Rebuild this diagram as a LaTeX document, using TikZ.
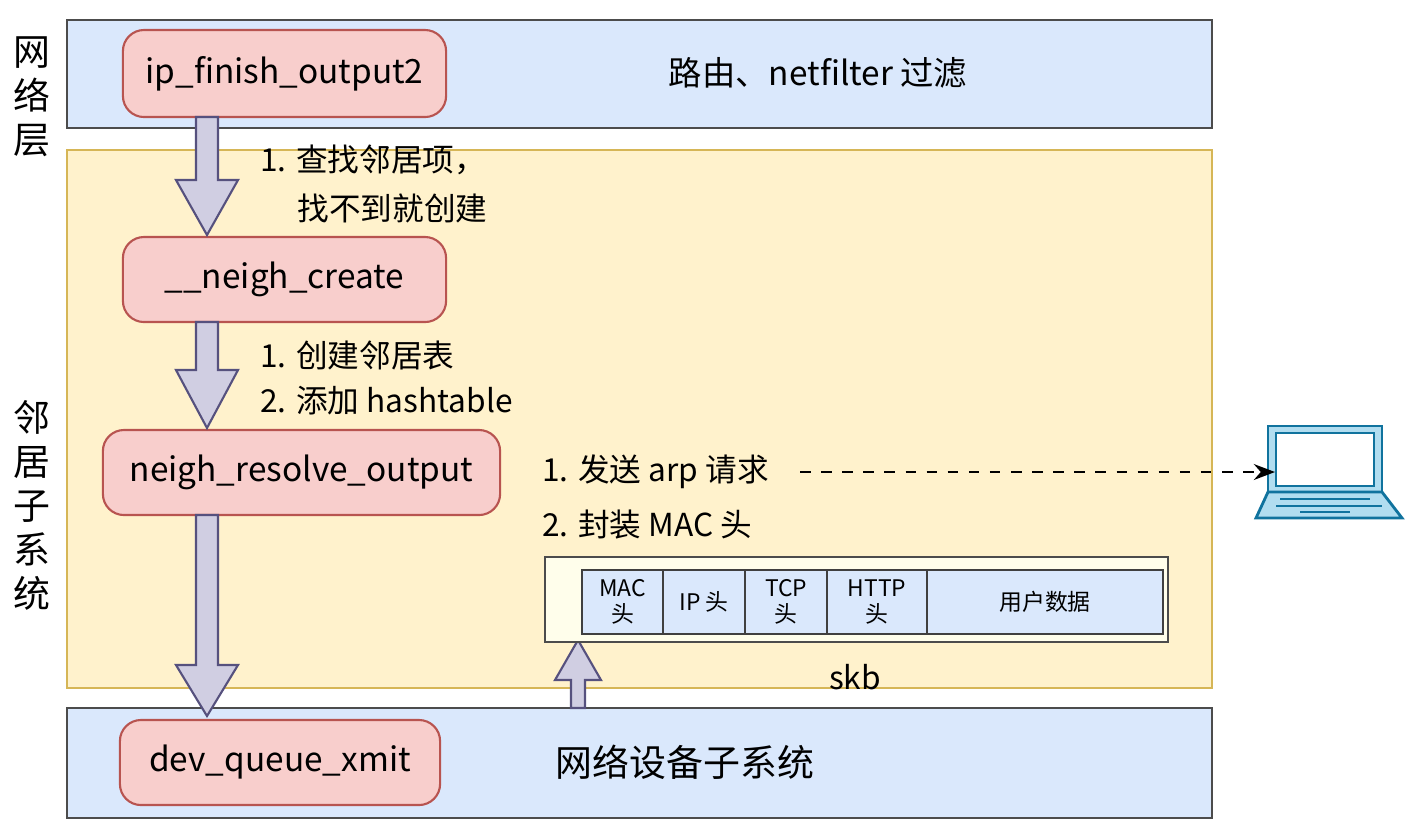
\documentclass[tikz,border=0pt]{standalone}
\usepackage{fontspec}
\setmainfont{Noto Sans CJK SC}
\usetikzlibrary{arrows.meta}
\definecolor{lblue}{HTML}{DAE8FC}
\definecolor{lyel}{HTML}{FFF2CC}
\definecolor{yb}{HTML}{D6B656}
\definecolor{lred}{HTML}{F8CECC}
\definecolor{rb}{HTML}{B85450}
\definecolor{lpur}{HTML}{D0CEE2}
\definecolor{pb}{HTML}{56517E}
\definecolor{lap}{HTML}{10739E}
\definecolor{lapf}{HTML}{B1DDF0}
\begin{document}
\begin{tikzpicture}[x=0.01cm,y=-0.01cm,
  layer/.style={draw=black!70,fill=lblue,line width=0.8pt},
  fn/.style={draw=rb,fill=lred,rounded corners=6pt,line width=0.6pt,font=\fontsize{9.5}{11}\selectfont},
  lbl/.style={anchor=west,font=\fontsize{9}{11}\selectfont},
  side/.style={font=\fontsize{10.5}{12.5}\selectfont,align=center},
  blk/.style={draw=pb,fill=lpur,line width=0.6pt},
  cell/.style={draw=black!75,fill=lblue,line width=0.6pt,font=\fontsize{6.5}{7.5}\selectfont,align=center,inner sep=0pt,minimum height=0.64cm,anchor=north west}]
\useasboundingbox (0,0) rectangle (1412,832);
\fill[white] (0,0) rectangle (1412,832);
% layers
\draw[layer] (67,20) rectangle (1212,128);
\draw[draw=yb,fill=lyel,line width=0.8pt] (67,150) rectangle (1212,688);
\draw[layer] (67,708) rectangle (1212,818);
\node[side] (l1) at (32,97) {网\\络\\层};
\node[side] (l2) at (32,505) {邻\\居\\子\\系\\统};
\node[font=\fontsize{9.5}{11}\selectfont] (t1) at (818,73) {路由、netfilter 过滤};
\node[font=\fontsize{10.5}{12}\selectfont] (t2) at (685,762) {网络设备子系统};
% function nodes
\node[fn,minimum width=3.23cm,minimum height=0.87cm] (a) at (284.5,73.5) {ip\_finish\_output2};
\node[fn,minimum width=3.23cm,minimum height=0.85cm] (b) at (284.5,279.5) {\_\_neigh\_create};
\node[fn,minimum width=3.97cm,minimum height=0.85cm] (c) at (301.5,472.5) {neigh\_resolve\_output};
\node[fn,minimum width=3.20cm,minimum height=0.85cm] (d) at (280,762.5) {dev\_queue\_xmit};
% block arrows
\draw[blk] (196,117) -- (218,117) -- (218,180) -- (238,180) -- (207,235) -- (176,180) -- (196,180) -- cycle;
\draw[blk] (196,322) -- (218,322) -- (218,370) -- (238,370) -- (207,428) -- (176,370) -- (196,370) -- cycle;
\draw[blk] (196,515) -- (218,515) -- (218,665) -- (238,665) -- (207,716) -- (176,665) -- (196,665) -- cycle;
\draw[blk] (571,708) -- (585,708) -- (585,680) -- (601,680) -- (578,640) -- (555,680) -- (571,680) -- cycle;
% labels
\node[lbl] (s1) at (248,160) {1. 查找邻居项，};
\node[lbl] (s2) at (285,208) {找不到就创建};
\node[lbl] (s3) at (248,355) {1. 创建邻居表};
\node[lbl] (s4) at (248,401) {2. 添加 hashtable};
\node[lbl] (s5) at (530,472) {1. 发送 arp 请求};
\node[lbl] (s6) at (530,525) {2. 封装 MAC 头};
% skb
\draw[draw=black!70,fill=white!92!yellow,line width=0.6pt] (545,557) rectangle (1168,642);
\node[cell,minimum width=0.81cm] (c1) at (581,569) {MAC\\头};
\node[cell,minimum width=0.82cm] (c2) at (662,569) {IP 头};
\node[cell,minimum width=0.82cm] (c3) at (744,569) {TCP\\头};
\node[cell,minimum width=1.00cm] (c4) at (826,569) {HTTP\\头};
\node[cell,minimum width=2.36cm] (c5) at (926,569) {用户数据};
\node[font=\fontsize{9}{11}\selectfont] (skb) at (855,677) {skb};
% laptop
\draw[lap,fill=lapf,line width=0.8pt] (1268,426) rectangle (1382,492);
\draw[lap,fill=white,line width=0.6pt] (1276,433) rectangle (1374,486);
\draw[lap,fill=lapf,line width=0.8pt] (1268,492) -- (1382,492) -- (1402,518) -- (1256,518) -- cycle;
\draw[lap,line width=0.8pt] (1280,499) -- (1370,499) (1276,506) -- (1382,506) (1300,512) -- (1350,512);
\coordinate (lp) at (1275,472);
\draw[dashed,line width=0.7pt,-{Stealth[length=6pt]}] (800,472) -- (lp);
\end{tikzpicture}
\end{document}
